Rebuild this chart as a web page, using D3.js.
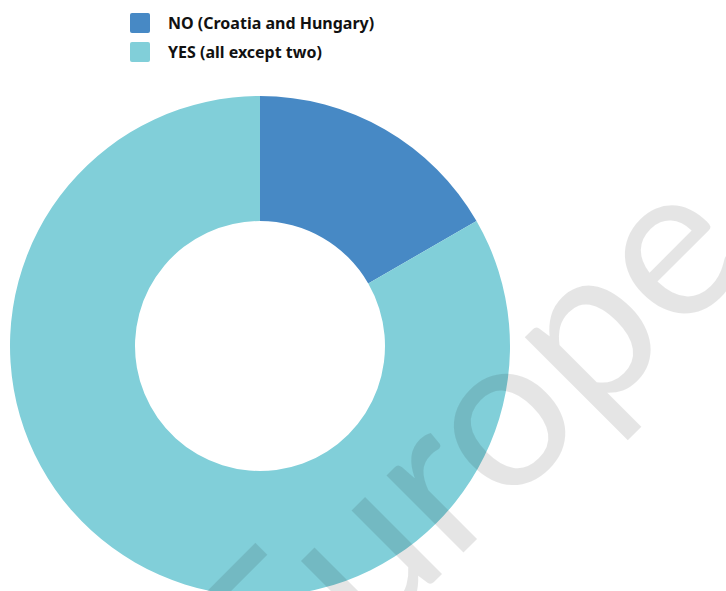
<!DOCTYPE html>
<html><head><meta charset="utf-8">
<script src="https://cdn.jsdelivr.net/npm/d3@7"></script>
<style>html,body{margin:0;padding:0;background:#fff;}svg{display:block;}</style>
</head><body>
<svg id="c" width="726" height="591"></svg>
<script>
const categories = ["NO (Croatia and Hungary)", "YES (all except two)"];
const values = [2, 10];
const colors = ["#4789c5", "#81cfd9"];
const watermark = "Europe";

const svg = d3.select("#c");
const cx = 260, cy = 346, outerR = 250, innerR = 125;

const pie = d3.pie().sort(null).value(d => d.v);
const arc = d3.arc().innerRadius(innerR).outerRadius(outerR);
const data = categories.map((c, i) => ({c, v: values[i], col: colors[i]}));

svg.append("g").attr("transform", `translate(${cx},${cy})`)
  .selectAll("path").data(pie(data)).join("path")
  .attr("d", arc).attr("fill", d => d.data.col);

// legend
const lg = svg.append("g");
data.forEach((d, i) => {
  const y = 13 + i * 29;
  lg.append("rect").attr("x", 130).attr("y", y).attr("width", 20).attr("height", 20)
    .attr("rx", 2).attr("fill", d.col);
  lg.append("text").attr("x", 168).attr("y", y + 15.5)
    .attr("font-family", "'Noto Sans', sans-serif").attr("font-weight", 700)
    .attr("font-size", 16).attr("fill", "#111").text(d.c);
});

// watermark
const fs = 215;
const wg = svg.append("g").attr("transform", "translate(508,508) rotate(-45)");
const meas = wg.append("text").attr("font-family", "Lato, sans-serif").attr("font-weight", 400)
  .attr("font-size", fs).text(watermark.slice(0, 3));
const pre = meas.node().getComputedTextLength();
meas.remove();
wg.append("text").attr("x", -pre).attr("y", 0)
  .attr("font-family", "Lato, sans-serif").attr("font-weight", 400)
  .attr("font-size", fs).attr("fill", "rgba(0,0,0,0.1)").text(watermark);
</script>
</body></html>
